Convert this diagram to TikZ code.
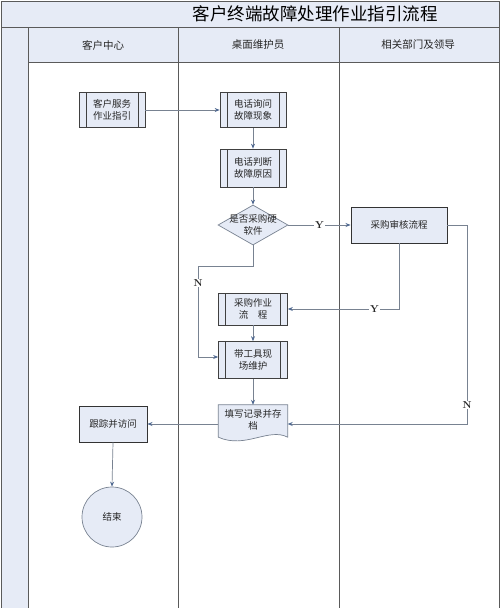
\documentclass[tikz,border=0pt]{standalone}
\usepackage{fontspec}
\newfontfamily\cjk{Noto Sans CJK SC}
\usetikzlibrary{shapes.geometric,arrows.meta,calc}
\definecolor{fb}{RGB}{230,235,246}
\definecolor{lc}{RGB}{120,130,145}
\definecolor{ah}{RGB}{80,105,145}
\definecolor{fr}{RGB}{90,90,90}
\begin{document}
\begin{tikzpicture}[x=1pt,y=-1pt,
  arr/.style={draw=lc,line width=0.7pt,-{Stealth[length=5pt,width=4pt,fill=ah,color=ah]}},
  nodetext/.style={font=\cjk\fontsize{9.5}{12}\selectfont,align=center,text=black!85},
  ppbox/.style={nodetext,draw=black!75,fill=fb,line width=0.7pt,minimum width=66pt,minimum height=35pt,inner sep=0pt,
    path picture={\draw[black!75,line width=0.7pt] ([xshift=7pt]path picture bounding box.north west) -- ([xshift=7pt]path picture bounding box.south west);
      \draw[black!75,line width=0.7pt] ([xshift=-7pt]path picture bounding box.north east) -- ([xshift=-7pt]path picture bounding box.south east);}},
  plainbox/.style={nodetext,draw=black!80,fill=fb,line width=0.95pt,inner sep=0pt},
  lab/.style={font=\bfseries\fontsize{10}{10}\selectfont,fill=white,inner sep=1pt,text=black!85},
  hdr/.style={font=\cjk\fontsize{10.5}{12}\selectfont,text=black!85}]
\useasboundingbox (0,0) rectangle (500,608);
% frame
\fill[fb] (1,1) rectangle (499,27);
\fill[fb] (1,27) rectangle (28,608);
\fill[fb] (28,27) rectangle (499,62);
\draw[fr,line width=1pt] (1,608) -- (1,1) -- (499,1) -- (499,608);
\draw[fr,line width=1pt] (1,27) -- (499,27);
\draw[fr,line width=1pt] (28,27) -- (28,608);
\draw[fr,line width=1pt] (28,62) -- (499,62);
\draw[fr,line width=1pt] (178,27) -- (178,608);
\draw[fr,line width=1pt] (339,27) -- (339,608);
\node[font=\cjk\fontsize{17.5}{20}\selectfont,text=black] (title) at (315,14) {客户终端故障处理作业指引流程};
\node[hdr] (h1) at (103,45) {客户中心};
\node[hdr] (h2) at (258,45) {桌面维护员};
\node[hdr] (h3) at (418,45) {相关部门及领导};
% nodes
\node[ppbox] (kf) at (112,110) {客户服务\\作业指引};
\node[ppbox] (wx) at (253,110) {电话询问\\故障现象};
\node[ppbox,minimum height=38pt] (pd) at (253,168) {电话判断\\故障原因};
\node[diamond,draw=lc,fill=fb,line width=0.7pt,minimum width=70pt,minimum height=40pt,inner sep=0pt,
  label={[nodetext]center:是否采购硬\\软件}] (dm) at (253,225) {};
\node[plainbox,minimum width=96pt,minimum height=36pt] (sh) at (399,225) {采购审核流程};
\node[ppbox,minimum width=69pt,minimum height=32pt] (cg) at (253,309) {采购作业\\流　程};
\node[ppbox,minimum width=69pt,minimum height=37pt] (dg) at (253,360) {带工具现\\场维护};
\node[nodetext,minimum width=69pt,minimum height=28pt,inner sep=0pt] (doc) at (253,419) {};
\fill[fb] (doc.north west) -- (doc.north east) -- ($(doc.south east)+(0,4)$)
  .. controls ($(doc.south east)+(-19,-6)$) and ($(doc.south west)+(27,16)$) .. ($(doc.south west)+(0,4)$) -- cycle;
\draw[lc,line width=0.7pt] (doc.north west) -- (doc.north east) -- ($(doc.south east)+(0,4)$)
  .. controls ($(doc.south east)+(-19,-6)$) and ($(doc.south west)+(27,16)$) .. ($(doc.south west)+(0,4)$) -- cycle;
\node[nodetext,anchor=north] (doct) at ($(doc.north)+(0,1)$) {填写记录并存\\档};
\node[plainbox,minimum width=68pt,minimum height=36pt] (gz) at (113,424) {跟踪并访问};
\node[circle,draw=lc,fill=fb,line width=0.7pt,minimum size=60pt,inner sep=0pt,nodetext] (end) at (112,517) {结束};
% connectors
\draw[arr] (kf.east) -- (wx.west);
\draw[arr] (wx.south) -- (pd.north);
\draw[arr] (pd.south) -- (dm.north);
\draw[arr] (dm.east) -- node[lab]{Y} (sh.west);
\coordinate (n1) at (198,266);
\draw[arr] (dm.south) |- (n1) |- ($(dg.west)+(0,-3)$);
\node[lab] (nlab) at (198,283) {N};
\draw[arr] (sh.south) |- node[lab,pos=0.61]{Y} (cg.east);
\draw[arr] (cg.south) -- (dg.north);
\draw[arr] (dg.south) -- (doc.north);
\coordinate (c2) at (467,225);
\draw[arr] (sh.east) -- (c2) |- ($(doc.east)+(0,5)$);
\node[lab] (nlab2) at (467,405) {N};
\draw[arr] ($(doc.west)+(0,5)$) -- (gz.east);
\draw[arr] (gz.south) -- (end.north);
\end{tikzpicture}
\end{document}
